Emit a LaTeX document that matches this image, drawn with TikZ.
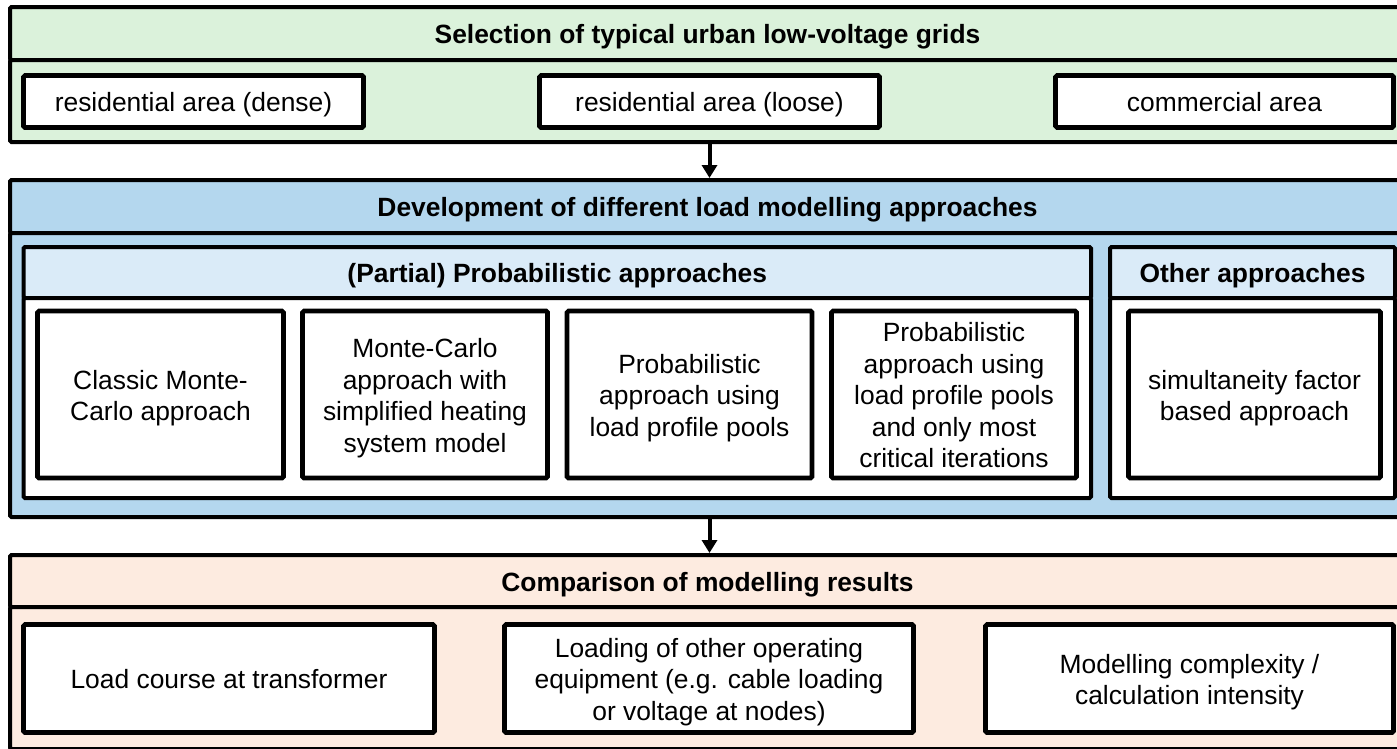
\documentclass[tikz,border=0pt]{standalone}
\usepackage{fontspec}
\setmainfont{Liberation Sans}
\usetikzlibrary{arrows.meta}
\definecolor{gfill}{HTML}{DBF2DB}
\definecolor{bfill}{HTML}{B4D7EE}
\definecolor{lbfill}{HTML}{DAEBF8}
\definecolor{pfill}{HTML}{FDEBE0}
\newcommand\tx[1]{\raisebox{-4pt}[\height][\depth]{\begin{tabular}{@{}c@{}}#1\end{tabular}}}
\begin{document}
\begin{tikzpicture}[x=1pt,y=-1pt,
  every node/.style={font=\fontsize{26.4}{31.5}\selectfont, inner sep=0pt, align=center},
  frame/.style={draw=black, line width=4pt, rounded corners=1.5pt, rectangle},
  hdr/.style={frame, font=\fontsize{26.4}{31.5}\selectfont\bfseries},
  ibox/.style={draw=black, line width=4.6pt, fill=white, rounded corners=1.5pt, rectangle},
  arr/.style={line width=4pt, -{Triangle[width=15pt,length=13pt]}}
]
\useasboundingbox (0,0) rectangle (1397,748);
\clip (0,0) rectangle (1397,748);

% ---------- green block ----------
\node[hdr, fill=gfill, minimum width=1395pt, minimum height=53pt] (ghead) at (707.5,33.5) {\tx{Selection of typical urban low-voltage grids}};
\node[frame, fill=gfill, minimum width=1395pt, minimum height=82pt] (gbody) at (707.5,101) {};
\node[ibox, minimum width=340pt, minimum height=52pt] (dense) at (193.5,101.5) {\tx{residential area (dense)}};
\node[ibox, minimum width=340pt, minimum height=52pt] (loose) at (709.5,101.5) {\tx{residential area (loose)}};
\node[ibox, minimum width=338pt, minimum height=52pt] (comm) at (1224.5,101.5) {\tx{commercial area}};

% ---------- blue block ----------
\node[hdr, fill=bfill, minimum width=1395pt, minimum height=53pt] (bhead) at (707.5,206.5) {\tx{Development of different load modelling approaches}};
\node[frame, fill=bfill, minimum width=1395pt, minimum height=284pt] (bbody) at (707.5,375) {};

\node[hdr, fill=lbfill, minimum width=1067.5pt, minimum height=51pt] (phead) at (557.25,272.5) {\tx{(Partial) Probabilistic approaches}};
\node[frame, fill=white, minimum width=1067.5pt, minimum height=200pt] (pbody) at (557.25,398) {};
\node[hdr, fill=lbfill, minimum width=285pt, minimum height=51pt] (ohead) at (1252.5,272.5) {\tx{Other approaches}};
\node[frame, fill=white, minimum width=285pt, minimum height=200pt] (obody) at (1252.5,398) {};

\node[ibox, minimum width=246pt, minimum height=167pt] (classic) at (160.5,394.5) {\tx{Classic Monte-\\Carlo approach}};
\node[ibox, minimum width=245pt, minimum height=167pt] (mcheat) at (425,394.5) {\tx{Monte-Carlo\\approach with\\simplified heating\\system model}};
\node[ibox, minimum width=245pt, minimum height=167pt] (pools) at (689.5,394.5) {\tx{Probabilistic\\approach using\\load profile pools}};
\node[ibox, minimum width=245pt, minimum height=167pt] (critical) at (954,394.5) {\tx{Probabilistic\\approach using\\load profile pools\\and only most\\critical iterations}};
\node[ibox, minimum width=252pt, minimum height=167pt] (simfac) at (1254.5,394.5) {\tx{simultaneity factor\\based approach}};

% ---------- peach block ----------
\node[hdr, fill=pfill, minimum width=1395pt, minimum height=52pt] (rhead) at (707.5,581) {\tx{Comparison of modelling results}};
\node[frame, fill=pfill, minimum width=1395pt, minimum height=142pt] (rbody) at (707.5,678) {};
\node[ibox, minimum width=411pt, minimum height=108pt] (lcourse) at (229,678.5) {\tx{Load course at transformer}};
\node[ibox, minimum width=409pt, minimum height=108pt] (lother) at (709,678.5) {\tx{Loading of other operating\\equipment (e.g. cable loading\\or voltage at nodes)}};
\node[ibox, minimum width=408pt, minimum height=108pt] (complex) at (1189.5,678.5) {\tx{Modelling complexity /\\calculation intensity}};

% ---------- arrows ----------
\draw[arr] (loose.south |- gbody.south) -- (loose.south |- bhead.north);
\draw[arr] (loose.south |- bbody.south) -- (loose.south |- rhead.north);
\end{tikzpicture}
\end{document}
